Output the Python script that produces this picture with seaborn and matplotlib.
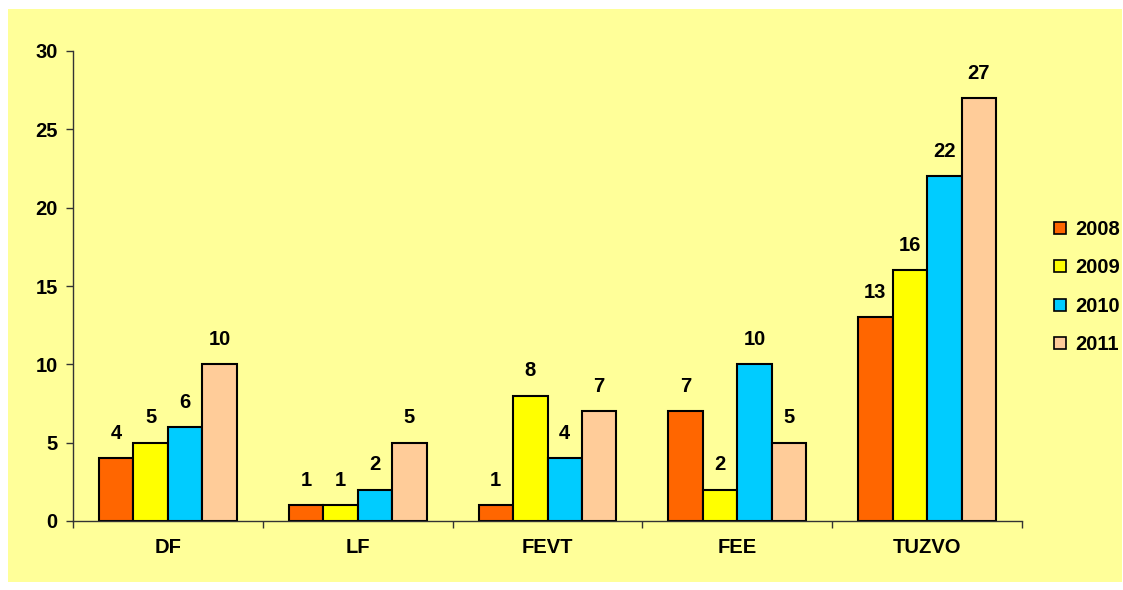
import matplotlib
matplotlib.use("Agg")
import matplotlib.pyplot as plt
import seaborn as sns
import pandas as pd
from matplotlib.patches import Rectangle
from matplotlib.lines import Line2D

categories = ["DF", "LF", "FEVT", "FEE", "TUZVO"]
years = ["2008", "2009", "2010", "2011"]
v2008 = [4, 1, 1, 7, 13]
v2009 = [5, 1, 8, 2, 16]
v2010 = [6, 2, 4, 10, 22]
v2011 = [10, 5, 7, 5, 27]
colors = ["#FF6600", "#FFFF00", "#00CCFF", "#FFCC99"]

rows = []
for y, vals in zip(years, [v2008, v2009, v2010, v2011]):
    for c, v in zip(categories, vals):
        rows.append({"cat": c, "year": y, "val": v})
df = pd.DataFrame(rows)

sns.set_theme(style="white")
plt.rcParams["font.family"] = ["Liberation Sans", "DejaVu Sans"]
plt.rcParams["font.weight"] = "bold"
plt.rcParams["text.color"] = "black"
plt.rcParams["xtick.color"] = "black"
plt.rcParams["ytick.color"] = "black"

fig = plt.figure(figsize=(11.23, 5.90), dpi=100)
fig.patch.set_facecolor("white")
bg = Rectangle((8/1123, 8/590), 1114/1123, 573/590,
               transform=fig.transFigure, facecolor="#FFFF99",
               edgecolor="none", zorder=-10)
fig.patches.append(bg)
ax = fig.add_axes([73/1123, 69/590, 949/1123, 470/590])
ax.set_facecolor("none")

sns.barplot(data=df, x="cat", y="val", hue="year", order=categories,
            hue_order=years, palette=colors, width=0.727, gap=0,
            edgecolor="black", linewidth=1.5, ax=ax, legend=False,
            saturation=1)

for cont in ax.containers:
    ax.bar_label(cont, labels=[f"{int(v)}" for v in cont.datavalues],
                 padding=11, fontsize=14.5, fontweight="bold", color="black")

ax.set_ylim(0, 30)
ax.set_xlim(-0.5, 4.5)
ax.set_yticks([0, 5, 10, 15, 20, 25, 30])
ax.set_xlabel("")
ax.set_ylabel("")
ax.tick_params(axis="y", which="major", direction="out", length=5, width=1,
               color="#333333", labelsize=14.5, pad=6, left=True)
ax.tick_params(axis="x", which="major", length=0, labelsize=14.5, pad=12)
ax.set_xticks([-0.5, 0.5, 1.5, 2.5, 3.5, 4.5], minor=True)
ax.tick_params(axis="x", which="minor", direction="out", length=5, width=1,
               color="#333333", bottom=True)
for lab in ax.get_xticklabels() + ax.get_yticklabels():
    lab.set_fontweight("bold")
    lab.set_color("black")

for s in ["top", "right"]:
    ax.spines[s].set_visible(False)
for s in ["left", "bottom"]:
    ax.spines[s].set_color("#333333")
    ax.spines[s].set_linewidth(1)

handles = [Line2D([0], [0], marker="s", linestyle="none", markersize=9,
                  markerfacecolor=c, markeredgecolor="black", markeredgewidth=1.2)
           for c in colors]
leg = fig.legend(handles, years, loc="center left",
                 bbox_to_anchor=(1043/1123, (590-287)/590),
                 frameon=False, handlelength=0.7, handletextpad=0.4,
                 labelspacing=0.95, borderpad=0, prop={"weight": "bold", "size": 14.5})
for t in leg.get_texts():
    t.set_color("black")

fig.savefig("out.png", dpi=100, facecolor=fig.get_facecolor())
